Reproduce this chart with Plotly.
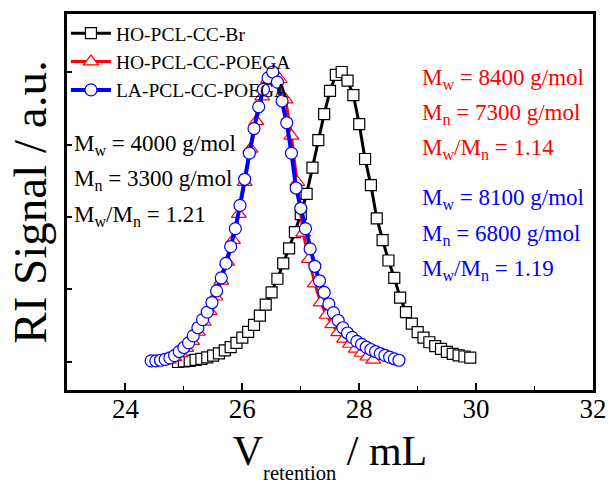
import plotly.graph_objects as go

# ---- data ----
br_x = [24.9, 25.0, 25.1, 25.2, 25.3, 25.4, 25.5, 25.6, 25.7, 25.8, 25.9,
        26.0, 26.1, 26.2, 26.3, 26.4, 26.5, 26.6, 26.7, 26.8, 26.9,
        27.0, 27.1, 27.2, 27.3, 27.4, 27.5, 27.6, 27.7, 27.8, 27.9,
        28.0, 28.1, 28.2, 28.3, 28.4, 28.5, 28.6, 28.7, 28.8, 28.9,
        29.0, 29.1, 29.2, 29.3, 29.4, 29.5, 29.6, 29.7, 29.8, 29.9]
br_y = [0.000, 0.002, 0.004, 0.007, 0.011, 0.016, 0.022, 0.030, 0.040, 0.051, 0.066,
        0.084, 0.104, 0.128, 0.160, 0.198, 0.240, 0.287, 0.340, 0.392, 0.448,
        0.510, 0.580, 0.670, 0.765, 0.855, 0.935, 0.990, 1.000, 0.970, 0.920,
        0.820, 0.700, 0.610, 0.495, 0.420, 0.350, 0.290, 0.222, 0.172, 0.132,
        0.103, 0.084, 0.068, 0.055, 0.045, 0.035, 0.028, 0.023, 0.019, 0.015]

ho_x = [24.64, 24.74, 24.84, 24.94, 25.04, 25.14, 25.24, 25.34, 25.44, 25.54,
        25.64, 25.74, 25.84, 25.94, 26.04, 26.14, 26.24, 26.34, 26.44, 26.54,
        26.64, 26.74, 26.84, 26.94, 27.04, 27.14, 27.24, 27.34, 27.44, 27.54,
        27.64, 27.74, 27.84, 27.94, 28.04, 28.14, 28.24]
ho_y = [0.004, 0.008, 0.016, 0.030, 0.048, 0.072, 0.104, 0.138, 0.175, 0.225,
        0.280, 0.345, 0.420, 0.510, 0.620, 0.735, 0.830, 0.915, 0.975, 1.000,
        0.975, 0.905, 0.780, 0.620, 0.445, 0.355, 0.270, 0.205, 0.162, 0.130,
        0.102, 0.080, 0.062, 0.045, 0.031, 0.018, 0.007]

la_x = [24.44, 24.52, 24.60, 24.68, 24.76, 24.84, 24.92, 25.00, 25.08, 25.16,
        25.24, 25.32, 25.40, 25.48, 25.56, 25.64, 25.72, 25.80, 25.88, 25.96,
        26.04, 26.12, 26.20, 26.28, 26.36, 26.44, 26.52, 26.60, 26.68, 26.76,
        26.84, 26.92, 27.00, 27.08, 27.16, 27.24, 27.32, 27.40, 27.48, 27.56,
        27.64, 27.72, 27.80, 27.88, 27.96, 28.04, 28.12, 28.20, 28.28, 28.36,
        28.44, 28.52, 28.60, 28.68]
la_y = [0.004, 0.004, 0.006, 0.009, 0.014, 0.022, 0.036, 0.050, 0.066, 0.090,
        0.118, 0.146, 0.172, 0.205, 0.245, 0.290, 0.340, 0.398, 0.460, 0.540,
        0.630, 0.720, 0.805, 0.880, 0.940, 0.980, 1.000, 0.965, 0.900, 0.825,
        0.720, 0.600, 0.530, 0.460, 0.390, 0.330, 0.280, 0.240, 0.200, 0.170,
        0.143, 0.118, 0.100, 0.085, 0.071, 0.061, 0.051, 0.043, 0.036, 0.029,
        0.023, 0.017, 0.011, 0.006]

names = ["HO-PCL-CC-Br", "HO-PCL-CC-POEGA", "LA-PCL-CC-POEGA"]

x_ticks = [24, 26, 28, 30, 32]
y_ticks = [0, 0.25, 0.5, 0.75, 1.0]

red_lines = ["M<sub>w</sub> = 8400 g/mol", "M<sub>n</sub> = 7300 g/mol",
             "M<sub>w</sub>/M<sub>n</sub> = 1.14"]
blue_lines = ["M<sub>w</sub> = 8100 g/mol", "M<sub>n</sub> = 6800 g/mol",
              "M<sub>w</sub>/M<sub>n</sub> = 1.19"]
black_lines = ["M<sub>w</sub> = 4000 g/mol", "M<sub>n</sub> = 3300 g/mol",
               "M<sub>w</sub>/M<sub>n</sub> = 1.21"]

FONT = "Liberation Serif, Times New Roman, serif"

fig = go.Figure()
fig.add_trace(go.Scatter(
    x=br_x, y=br_y, name=names[0], mode="lines+markers",
    line=dict(color="black", width=3),
    marker=dict(symbol="square", size=11, color="white",
                line=dict(color="black", width=1.2))))
fig.add_trace(go.Scatter(
    x=ho_x, y=ho_y, name=names[1], mode="lines+markers",
    line=dict(color="#ff0000", width=3),
    marker=dict(symbol="triangle-up", size=13, color="white",
                line=dict(color="#ff0000", width=1.2))))
fig.add_trace(go.Scatter(
    x=la_x, y=la_y, name=names[2], mode="lines+markers",
    line=dict(color="#0000ff", width=4),
    marker=dict(symbol="circle", size=12, color="white",
                line=dict(color="#0000ff", width=1.2))))

annots = []
for i, t in enumerate(red_lines):
    annots.append(dict(text=t, x=0.672, y=[0.828, 0.735, 0.642][i], color="#ff0000"))
for i, t in enumerate(blue_lines):
    annots.append(dict(text=t, x=0.672, y=[0.508, 0.413, 0.320][i], color="#0000ff"))
for i, t in enumerate(black_lines):
    annots.append(dict(text=t, x=0.010, y=[0.651, 0.558, 0.462][i], color="black"))

for a in annots:
    fig.add_annotation(text=a["text"], x=a["x"], y=a["y"], xref="paper", yref="paper",
                       xanchor="left", yanchor="middle", showarrow=False,
                       font=dict(family=FONT, size=23, color=a["color"]))

fig.update_layout(
    width=611, height=484,
    margin=dict(l=67, r=18, t=14, b=94, autoexpand=False),
    paper_bgcolor="white", plot_bgcolor="white",
    font=dict(family=FONT, color="black"),
    showlegend=True,
    legend=dict(x=-0.002, y=1.0, xanchor="left", yanchor="top",
                bgcolor="rgba(0,0,0,0)", font=dict(family=FONT, size=19.5),
                tracegroupgap=0, itemwidth=40),
    xaxis=dict(range=[23, 32], tickvals=x_ticks, ticks="inside", ticklen=7,
               tickwidth=1.5, tickcolor="black", ticklabelstandoff=-7,
               minor=dict(dtick=1, ticks="inside", ticklen=4, tickcolor="black", tickwidth=1),
               showline=True, linecolor="black", linewidth=2.5, mirror=True,
               showgrid=False, zeroline=False,
               tickfont=dict(family=FONT, size=27),
               title=dict(text="V<sub><sub>retention</sub></sub> / mL",
                          font=dict(family=FONT, size=42), standoff=14)),
    yaxis=dict(range=[-0.0966, 1.2], tickvals=y_ticks, ticks="inside", ticklen=5,
               tickwidth=1.5, tickcolor="black", showticklabels=False,
               showline=True, linecolor="black", linewidth=2.5, mirror=True,
               showgrid=False, zeroline=False,
               title=dict(text="RI Signal / a.u.", font=dict(family=FONT, size=47),
                          standoff=3)),
)

fig.write_html("out.html", config={"displayModeBar": False},
               post_script="document.body.style.margin='0';")
